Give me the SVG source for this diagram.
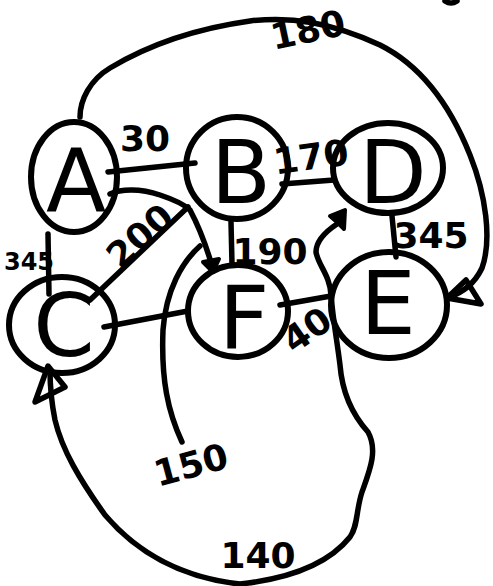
<svg xmlns="http://www.w3.org/2000/svg" width="493" height="586" viewBox="0 0 493 586">
<style>
.o{fill:none;stroke:#000;stroke-width:6;stroke-linecap:round;stroke-linejoin:round}
.e{fill:none;stroke:#000;stroke-width:5.5;stroke-linecap:round;stroke-linejoin:round}
.n{font-family:"DejaVu Sans",sans-serif;font-size:88px;fill:#000;text-anchor:middle;dominant-baseline:central}
.l{font-family:"DejaVu Sans",sans-serif;font-size:36px;font-weight:bold;fill:#000;text-anchor:middle;dominant-baseline:central}
.ah{fill:#000;stroke:#000;stroke-width:4;stroke-linejoin:round}
.ao{fill:none;stroke:#000;stroke-width:5.5;stroke-linejoin:round}
</style>
<rect width="493" height="586" fill="#fff"/>
<g id="connectors">
  <path class="e" d="M108,172 L195,163"/>
  <path class="e" d="M110,194 C120,189 140,188 160,195 C175,200 185,205 190,210 C198,225 206,245 212,266"/>
  <path class="ah" d="M203,262 L213,272 L219,259 Z"/>
  <path class="e" d="M90,300 L188,207"/>
  <path class="e" d="M231,222 L232,264"/>
  <path class="e" d="M282,184 L334,180"/>
  <path class="e" d="M392,216 L396,257"/>
  <path class="e" d="M280,305 L331,296"/>
  <path class="e" d="M104,327 L188,311"/>
  <path class="e" d="M48,234 L49,294"/>
  <path class="e" d="M80,117 C80,100 90,80 110,68 C150,44 200,28 250,21 C290,16 330,22 380,45 C420,65 450,105 470,155 C486,195 492,240 482,268 C474,285 462,292 450,297"/>
  <path class="ao" d="M447,298 L466,280 L481,304 Z"/>
  <path class="e" d="M200,246 C182,262 166,290 163,330 C161,380 168,412 182,442"/>
  <path class="e" d="M337,224 C325,232 316,242 316,252 C318,265 330,275 331,295 C333,320 337,340 340,365 C342,390 350,412 368,432 C378,450 370,470 362,492 C356,510 358,526 350,537 C330,562 295,578 240,584 C185,578 140,556 105,515 C80,480 62,450 55,420 C52,405 50,390 50,370"/>
  <path class="ah" d="M330,216 L345,210 L344,229 L338,223 Z"/>
  <path class="ao" d="M48,366 L65,387 L35,402 Z"/>
  <path class="e" d="M445,1 Q451,5 457,1"/>
</g>
<g id="node-A"><ellipse class="o" cx="74" cy="177" rx="43" ry="55"/><text class="n" x="76" y="180">A</text></g>
<g id="node-B"><ellipse class="o" cx="237" cy="168" rx="51" ry="51"/><text class="n" x="241" y="172">B</text></g>
<g id="node-D"><ellipse class="o" cx="388" cy="168" rx="55" ry="45"/><text class="n" x="393" y="172">D</text></g>
<g id="node-C"><ellipse class="o" cx="62" cy="325" rx="53" ry="48"/><text class="n" x="64" y="325">C</text></g>
<g id="node-F"><ellipse class="o" cx="238" cy="311" rx="50" ry="46"/><text class="n" x="244" y="317">F</text></g>
<g id="node-E"><ellipse class="o" cx="389" cy="305" rx="58" ry="53"/><text class="n" x="388" y="303">E</text></g>
<g id="labels">
  <text class="l" x="29" y="262" style="font-size:24px">345</text>
  <text class="l" x="145" y="138">30</text>
  <text class="l" x="140" y="236" transform="rotate(-42 140 236)">200</text>
  <text class="l" x="270" y="251">190</text>
  <text class="l" x="311" y="157" transform="rotate(-8 311 157)">170</text>
  <text class="l" x="431" y="235">345</text>
  <text class="l" x="307" y="330" transform="rotate(-35 307 330)">40</text>
  <text class="l" x="308" y="30" transform="rotate(-12 308 30)">180</text>
  <text class="l" x="191" y="465" transform="rotate(-15 191 465)">150</text>
  <text class="l" x="258" y="555">140</text>
</g>
</svg>
